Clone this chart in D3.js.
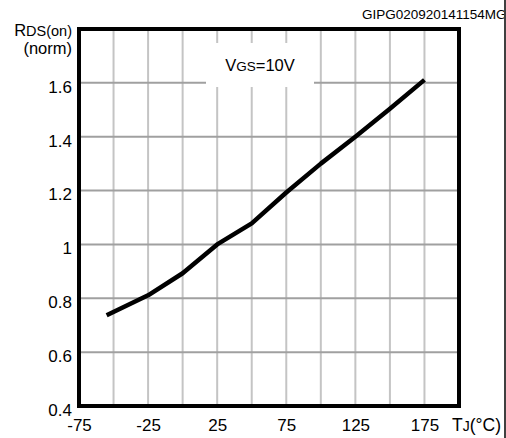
<!DOCTYPE html>
<html>
<head>
<meta charset="utf-8">
<script src="https://cdn.jsdelivr.net/npm/d3@7"></script>
<style>
  html, body { margin: 0; padding: 0; background: #fff; }
  svg { display: block; font-family: "Liberation Sans", Arial, sans-serif; }
</style>
</head>
<body>
<svg id="chart" width="506" height="438"></svg>
<script>
// Normalized on-resistance vs junction temperature
const tempC = [-55, -25, 0, 25, 50, 75, 100, 125, 150, 175];
const rdsNorm = [0.737, 0.811, 0.893, 1.0, 1.078, 1.193, 1.30, 1.40, 1.504, 1.611];

const xTickValues = [-75, -25, 25, 75, 125, 175];
const yTickValues = [0.4, 0.6, 0.8, 1.0, 1.2, 1.4, 1.6];
const xGridValues = [-50, -25, 0, 25, 50, 75, 100, 125, 150, 175];
const yGridValues = [0.6, 0.8, 1.0, 1.2, 1.4, 1.6];

const svg = d3.select("#chart");
const plotL = 79, plotR = 459, plotT = 29, plotB = 406;

const x = d3.scaleLinear().domain([-75, 200]).range([plotL, plotR]);
const y = d3.scaleLinear().domain([0.4, 1.8]).range([plotB, plotT]);

// grid
const grid = svg.append("g");
grid.selectAll("line.v").data(xGridValues).enter().append("line")
  .attr("class", "v")
  .attr("x1", d => x(d)).attr("x2", d => x(d))
  .attr("y1", plotT).attr("y2", plotB)
  .attr("stroke", "#c4c4c4").attr("stroke-width", 2);
grid.selectAll("line.h").data(yGridValues).enter().append("line")
  .attr("class", "h")
  .attr("x1", plotL).attr("x2", plotR)
  .attr("y1", d => y(d)).attr("y2", d => y(d))
  .attr("stroke", "#a0a0a0").attr("stroke-width", 2);

// condition label with white background
svg.append("rect")
  .attr("x", 206).attr("y", 43).attr("width", 108).attr("height", 44)
  .attr("fill", "#fff");
const cond = svg.append("text").attr("x", 260).attr("y", 71)
  .attr("text-anchor", "middle").attr("font-size", 16.5).attr("fill", "#000");
cond.append("tspan").text("V");
cond.append("tspan").attr("font-size", 13.5).text("GS");
cond.append("tspan").text("=10V");

// curve
const line = d3.line().x((d, i) => x(tempC[i])).y(d => y(d));
svg.append("path").datum(rdsNorm)
  .attr("d", line)
  .attr("fill", "none").attr("stroke", "#000")
  .attr("stroke-width", 4.5).attr("stroke-linejoin", "round");

// frame
svg.append("rect")
  .attr("x", plotL).attr("y", plotT).attr("width", plotR - plotL).attr("height", plotB - plotT)
  .attr("fill", "none").attr("stroke", "#000").attr("stroke-width", 4);

// axes (labels only)
const xAxis = d3.axisBottom(x).tickValues(xTickValues).tickSize(0).tickPadding(0)
  .tickFormat(d => String(d));
const gx = svg.append("g").attr("transform", `translate(0,${plotB})`).call(xAxis);
gx.select(".domain").remove();
gx.selectAll("text").attr("font-size", 17).attr("fill", "#000")
  .attr("font-family", "Liberation Sans, Arial, sans-serif")
  .attr("dy", null).attr("y", 25);

const yAxis = d3.axisLeft(y).tickValues(yTickValues).tickSize(0).tickPadding(7)
  .tickFormat(d => d === 1 ? "1" : d.toFixed(1));
const gy = svg.append("g").attr("transform", `translate(${plotL},0)`).call(yAxis);
gy.select(".domain").remove();
gy.selectAll("text").attr("font-size", 17).attr("fill", "#000")
  .attr("font-family", "Liberation Sans, Arial, sans-serif")
  .attr("dy", "0.55em");

// axis titles
const yt = svg.append("text").attr("x", 72).attr("y", 36).attr("text-anchor", "end")
  .attr("font-size", 16.5).attr("fill", "#000");
yt.append("tspan").text("R");
yt.append("tspan").attr("font-size", 14.5).text("DS(on)");
svg.append("text").attr("x", 72).attr("y", 54).attr("text-anchor", "end")
  .attr("font-size", 16.5).attr("fill", "#000").text("(norm)");

const xt = svg.append("text").attr("x", 452).attr("y", 431)
  .attr("font-size", 17.5).attr("fill", "#000");
xt.append("tspan").text("T");
xt.append("tspan").attr("font-size", 14).text("J");
xt.append("tspan").text("(°C)");

svg.append("text").attr("x", 362).attr("y", 19)
  .attr("font-size", 13.5).attr("fill", "#000").text("GIPG020920141154MG");

// right edge rule
svg.append("rect").attr("x", 504).attr("y", 0).attr("width", 2).attr("height", 438)
  .attr("fill", "#fff");
svg.append("line").attr("x1", 505).attr("x2", 505).attr("y1", 0).attr("y2", 438)
  .attr("stroke", "#000").attr("stroke-width", 1.5);
</script>
</body>
</html>
